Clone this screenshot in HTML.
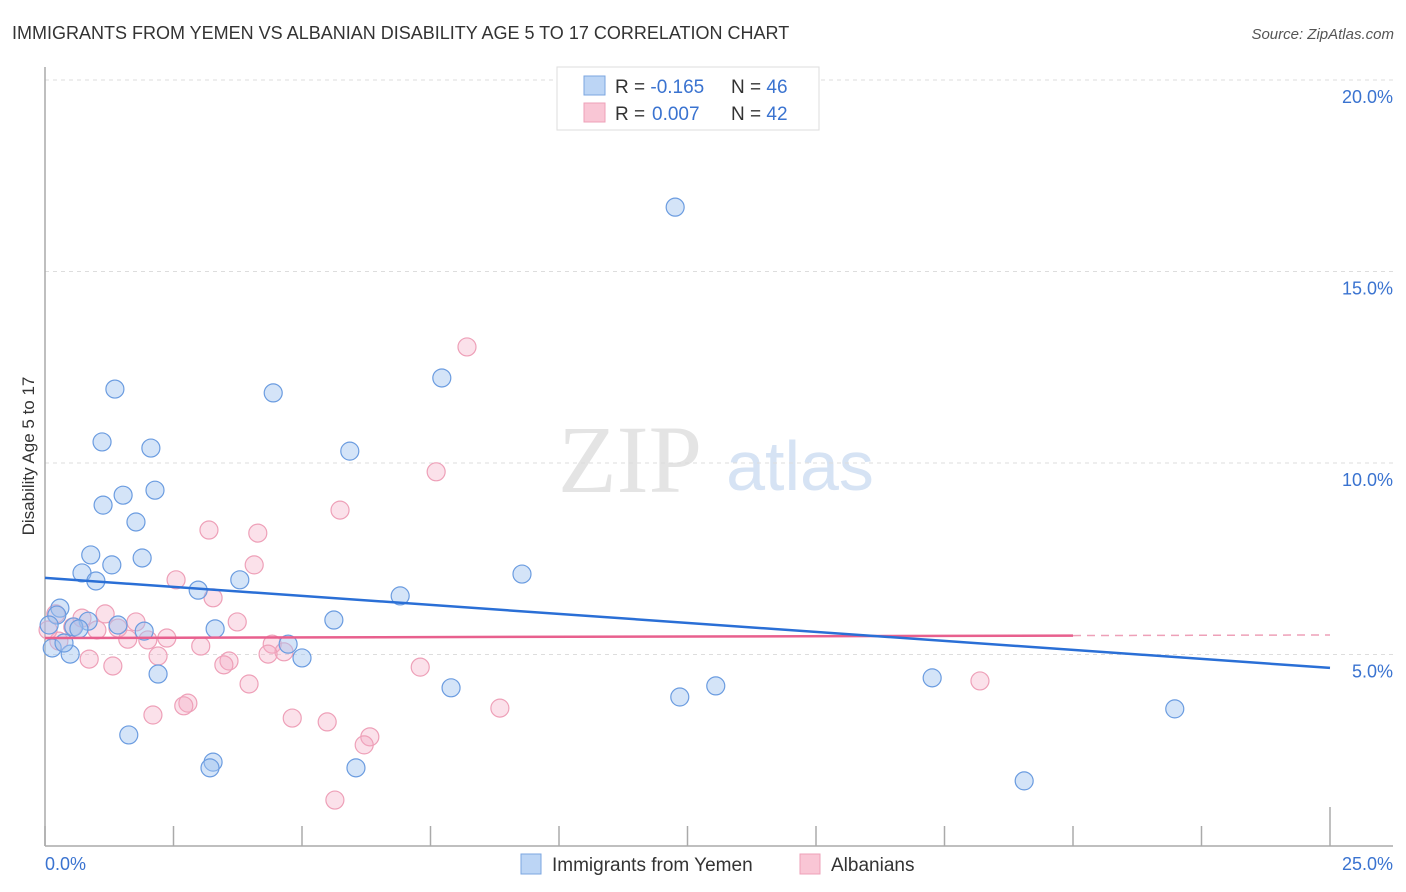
<!DOCTYPE html>
<html><head><meta charset="utf-8"><style>
body{margin:0;background:#fff;font-family:"Liberation Sans",sans-serif;}
svg{display:block}
</style></head><body>
<svg id="chart" width="1406" height="892">
<text x="12" y="39" font-size="18" fill="#333">IMMIGRANTS FROM YEMEN VS ALBANIAN DISABILITY AGE 5 TO 17 CORRELATION CHART</text>
<text x="1394" y="39" font-size="15" fill="#555" font-style="italic" text-anchor="end">Source: ZipAtlas.com</text>
<text x="630" y="492" font-size="96" fill="#e4e4e4" font-family="Liberation Serif,serif" text-anchor="middle">ZIP</text>
<text x="800" y="490" font-size="70" fill="#d6e3f4" text-anchor="middle">atlas</text>
<g id="grid"></g>
<line x1="45" y1="67" x2="45" y2="846" stroke="#aaa" stroke-width="1.5"/>
<line x1="45" y1="846" x2="1393" y2="846" stroke="#aaa" stroke-width="1.5"/>
<g id="xticks"></g>
<text x="45" y="870" font-size="18" fill="#3a73d0">0.0%</text>
<text x="1393" y="870" font-size="18" fill="#3a73d0" text-anchor="end">25.0%</text>
<text transform="translate(34,456) rotate(-90)" font-size="17" fill="#333" text-anchor="middle">Disability Age 5 to 17</text>
<g id="pts"></g>
<g id="trends"></g>
<g>
<rect x="557" y="67" width="262" height="63" fill="#fff" stroke="#ddd"/>
<rect x="584" y="76" width="21" height="19" fill="#bcd5f5" stroke="#7ba6e0"/>
<rect x="584" y="103" width="21" height="19" fill="#f9c6d5" stroke="#eea0b8"/>
<text x="615" y="93" font-size="19" fill="#333">R = <tspan fill="#3a73d0">-0.165</tspan><tspan x="731">N = </tspan><tspan fill="#3a73d0">46</tspan></text>
<text x="615" y="120" font-size="19" fill="#333">R = <tspan fill="#3a73d0" x="652">0.007</tspan><tspan x="731">N = </tspan><tspan fill="#3a73d0">42</tspan></text>
</g>
<g>
<rect x="521" y="854" width="20" height="20" fill="#bcd5f5" stroke="#7ba6e0"/>
<text x="552" y="871" font-size="19" fill="#333">Immigrants from Yemen</text>
<rect x="800" y="854" width="20" height="20" fill="#f9c6d5" stroke="#eea0b8"/>
<text x="831" y="871" font-size="19" fill="#333">Albanians</text>
</g>
</svg>
<script>
const yTicks=[5,10,15,20];
const xTickVals=[0,2.5,5,7.5,10,12.5,15,17.5,20,22.5,25];
const blueX=[12.26,1.36,4.44,7.72,1.11,2.06,5.93,2.14,1.52,1.13,1.77,0.89,1.89,1.30,0.72,0.99,3.79,2.98,9.28,6.91,0.29,5.62,0.23,0.84,0.56,1.42,3.31,1.93,0.66,4.73,5.00,0.49,0.14,0.37,2.20,7.90,13.05,12.35,17.26,21.98,1.63,3.27,3.21,6.05,19.05,0.08];
const blueY=[16.68,11.93,11.83,12.22,10.55,10.39,10.31,9.29,9.16,8.90,8.46,7.60,7.52,7.34,7.13,6.92,6.95,6.68,7.10,6.53,6.21,5.90,6.03,5.87,5.72,5.77,5.67,5.61,5.67,5.27,4.91,5.01,5.17,5.30,4.49,4.13,4.18,3.89,4.39,3.58,2.90,2.19,2.04,2.04,1.70,5.77];
const pinkX=[8.21,7.61,5.74,3.19,4.14,4.07,2.55,3.27,3.74,1.17,1.77,0.72,0.21,1.01,0.54,1.42,2.00,2.37,1.61,4.42,4.65,4.34,3.03,2.20,0.86,1.32,3.58,3.48,7.30,3.97,18.19,2.10,2.78,2.70,4.81,5.49,8.85,6.32,6.21,5.64,0.27,0.06];
const pinkY=[13.03,9.77,8.77,8.25,8.17,7.34,6.95,6.48,5.85,6.06,5.85,5.95,6.06,5.64,5.72,5.69,5.38,5.43,5.40,5.27,5.07,5.01,5.22,4.96,4.88,4.70,4.83,4.73,4.67,4.23,4.31,3.42,3.73,3.66,3.34,3.24,3.60,2.85,2.64,1.20,5.35,5.64];
const blueTrend=[7.0,4.65];
const pinkTrend=[5.43,5.51];
const pinkSolidEnd=20;
const NS="http://www.w3.org/2000/svg";
const X=v=>45+v/25*1285;
const Y=v=>846-v/5*191.5;
function mk(tag,attrs,parent){const e=document.createElementNS(NS,tag);for(const k in attrs)e.setAttribute(k,attrs[k]);document.getElementById(parent).appendChild(e);return e;}
yTicks.forEach(t=>{
 const l=mk('line',{x1:45,x2:1393,y1:Y(t),y2:Y(t),stroke:'#ddd','stroke-dasharray':'4,4'},'grid');
 
 
 const tx=mk('text',{x:1393,y:Y(t)+23,'font-size':18,fill:'#3a73d0','text-anchor':'end'},'grid');
 tx.textContent=t.toFixed(1)+'%';
 
 
});
xTickVals.forEach((t,i)=>{
 const l=mk('line',{x1:X(t),x2:X(t),y1:(i==xTickVals.length-1?807:826),y2:846,stroke:'#aaa','stroke-width':1.5},'xticks');
 
 
});
pinkX.forEach((x,i)=>{
 const c=mk('circle',{cx:X(x),cy:Y(pinkY[i]),r:9,fill:'rgba(244,170,195,0.35)',stroke:'#eea0b8','stroke-width':1.2},'pts');
 
 
});
blueX.forEach((x,i)=>{
 const c=mk('circle',{cx:X(x),cy:Y(blueY[i]),r:9,fill:'rgba(160,195,240,0.45)',stroke:'#6b9ce0','stroke-width':1.2},'pts');
 
 
});
const pm=pinkTrend[0]+(pinkTrend[1]-pinkTrend[0])*pinkSolidEnd/25;
let l=mk('line',{x1:X(0),y1:Y(pinkTrend[0]),x2:X(pinkSolidEnd),y2:Y(pm),stroke:'#e8608e','stroke-width':2.5},'trends');


l=mk('line',{x1:X(pinkSolidEnd),y1:Y(pm),x2:X(25),y2:Y(pinkTrend[1]),stroke:'#eea0b8','stroke-width':1.5,'stroke-dasharray':'8,6'},'trends');


l=mk('line',{x1:X(0),y1:Y(blueTrend[0]),x2:X(25),y2:Y(blueTrend[1]),stroke:'#2a6fd6','stroke-width':2.5},'trends');


</script>
</body></html>
